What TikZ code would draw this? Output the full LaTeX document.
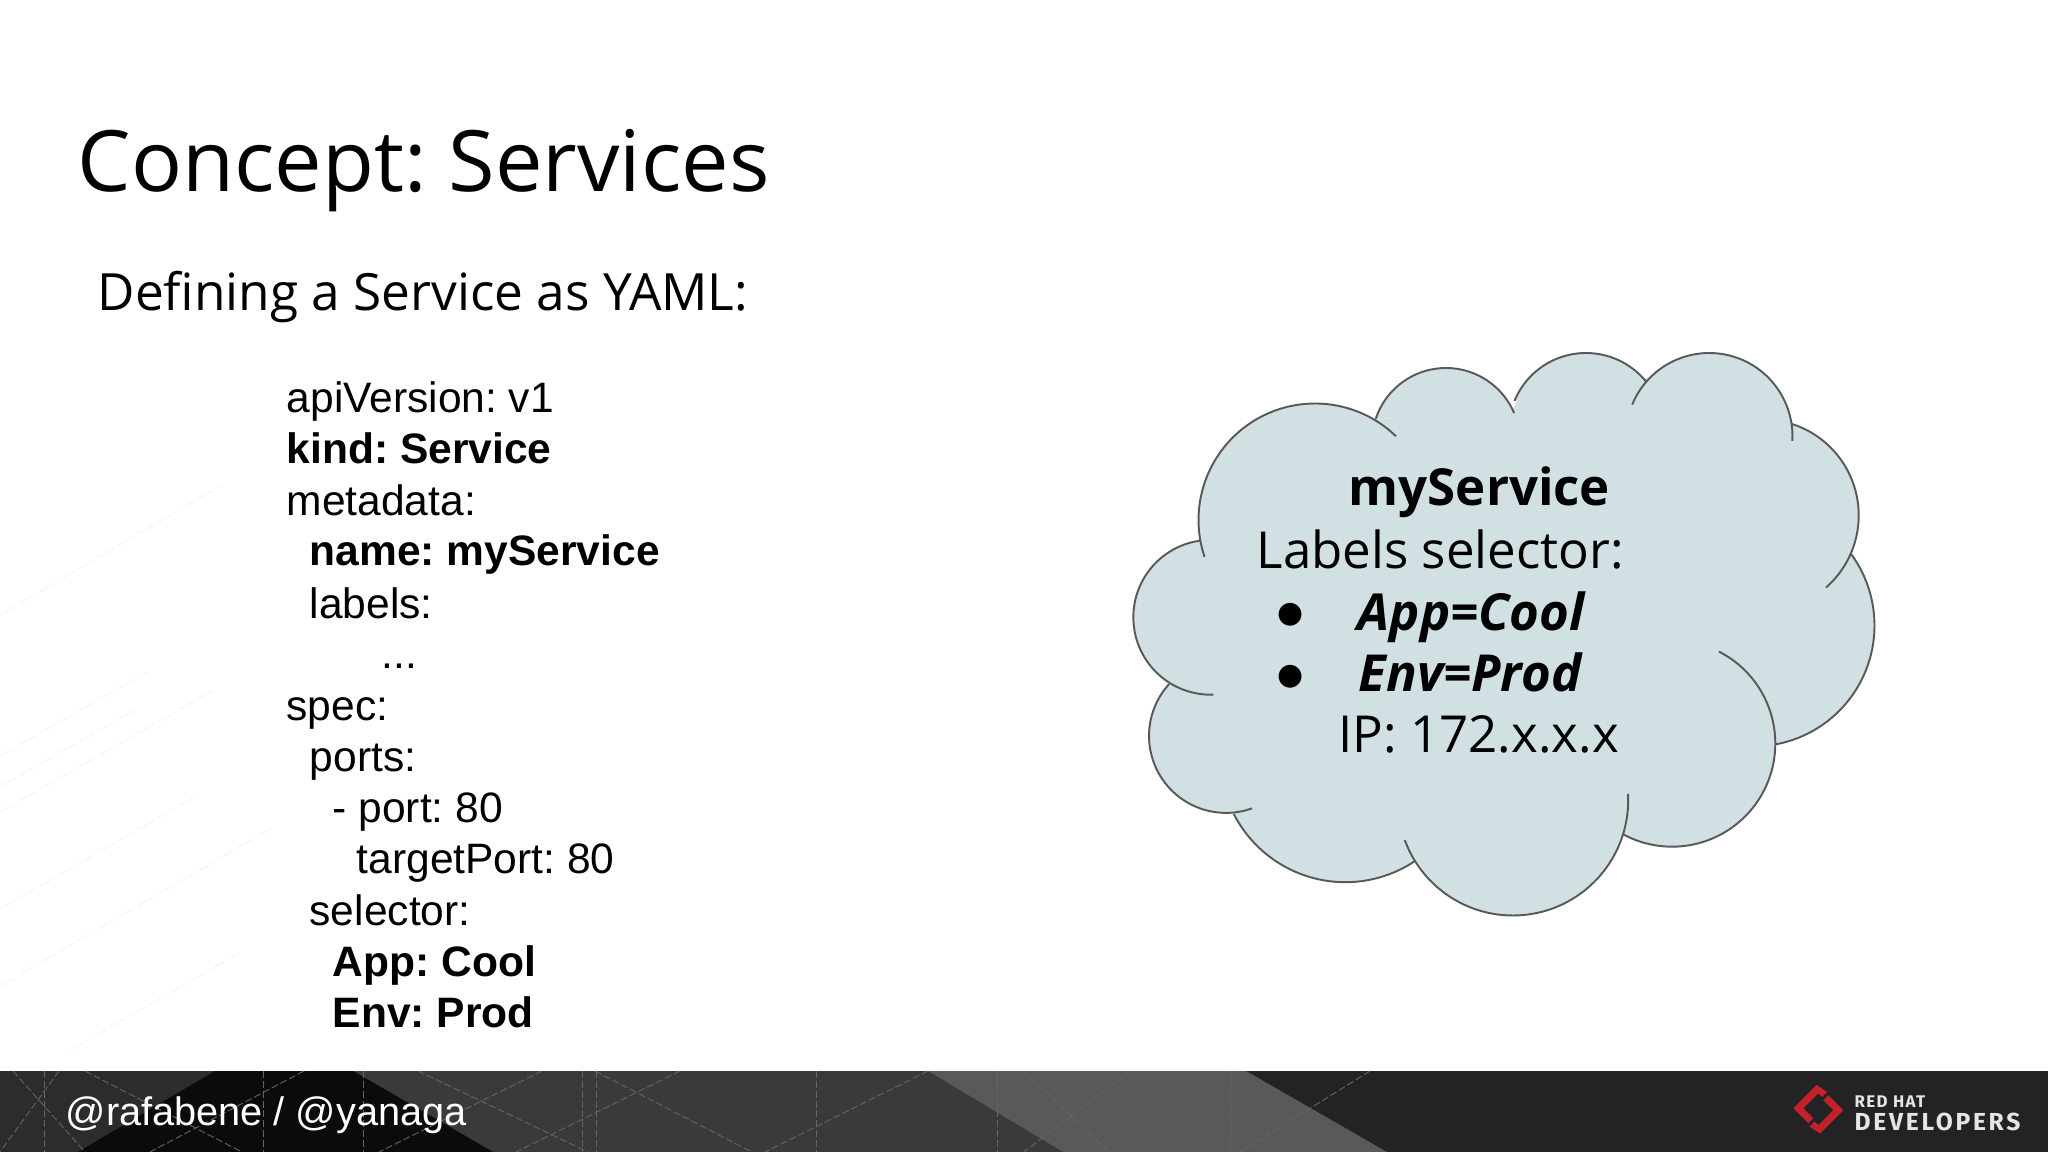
\documentclass[tikz,border=0pt]{standalone}
\usepackage{fontspec}
\setmainfont{Open Sans}
\newfontfamily\arialfont{Liberation Sans}
\newfontfamily\dejavufont{DejaVu Sans}
\newfontfamily\logofontA[LetterSpace=8]{Fira Sans}
\newfontfamily\logofontB[LetterSpace=11]{Fira Sans}
\usetikzlibrary{backgrounds}
\definecolor{cloudblue}{HTML}{D0E0E3}
\definecolor{cloudedge}{HTML}{595959}
\definecolor{bandblack}{HTML}{0B0B0C}
\definecolor{bandleft}{HTML}{2C2C2E}
\definecolor{banddark}{HTML}{232224}
\definecolor{bandmid}{HTML}{3A3A3C}
\definecolor{bandlight}{HTML}{59595B}
\definecolor{logored}{HTML}{C4222B}
\tikzset{
  cloudline/.style={draw=cloudedge,line width=0.55pt},
  wmline/.style={draw=black!4,line width=0.3pt,dash pattern=on 5pt off 1.5pt},
  bandline/.style={draw=white!22!bandmid,line width=0.25pt,dash pattern=on 2pt off 0.8pt}
}
% lobe of the cloud: centre x, centre y, radius, first and last angle
\newcommand{\lobe}[5]{%
  \begin{pgfonlayer}{background}
    \fill[cloudblue] plot[smooth,domain=#4:#5,samples=30] ({#1+#3*cos(\x)},{#2-#3*sin(\x)});
  \end{pgfonlayer}
  \draw[cloudline] plot[smooth,domain=#4:#5,samples=30] ({#1+#3*cos(\x)},{#2-#3*sin(\x)});
}
\frenchspacing
\begin{document}
\begin{tikzpicture}[x=0.01cm,y=-0.01cm]
        \useasboundingbox (0,0) rectangle (2048,1152);

        % faint lines on the white part
        \draw[wmline] (0,615) -- (220,486);
        \draw[wmline] (0,756) -- (147,672);
        \draw[wmline] (0,787) -- (135,710);
        \draw[wmline] (0,812) -- (212,691);
        \draw[wmline] (0,909) -- (193,798);
        \draw[wmline] (0,986) -- (277,825);
        \draw[wmline] (70,1050) -- (240,953);

        % footer band
        \fill[banddark] (0,1071) rectangle (2048,1152);
        \fill[bandmid] (353,1071) -- (928,1071) -- (1063,1152) -- (493,1152) -- cycle;
        \fill[bandleft] (0,1071) -- (353,1071) -- (493,1152) -- (0,1152) -- cycle;
        \fill[bandblack] (215,1071) -- (353,1071) -- (493,1152) -- (78,1152) -- cycle;
        \fill[bandlight] (928,1071) -- (1246,1071) -- (1387,1152) -- (1063,1152) -- cycle;
        \foreach \xa in {44,263,363,582,596,816,997,1230} {
          \draw[bandline] (\xa,1071) -- (\xa,1152);
        }
        \foreach \xa/\xb in {13/85,85/242,418/588,595/752,1024/1109} {
          \draw[bandline] (\xa,1071) -- (\xb,1152);
        }
        \foreach \xa/\xb in {59/0,304/150,542/379,680/516,928/765,1130/1024,1370/1240} {
          \draw[bandline] (\xa,1071) -- (\xb,1152);
        }

        % cloud
        \begin{pgfonlayer}{background}
          \fill[cloudblue] (1199.5,538.6) -- (1374,420) -- (1514,408) -- (1518,398) -- (1645,378) -- (1791.3,423.8)
            -- (1851,553.9) -- (1775,744.5) -- (1624,831.3) -- (1415.3,860.8) -- (1233.7,814.1) -- (1168.9,684) -- cycle;
        \end{pgfonlayer}
        \lobe{1315}{520}{116.5}{198.4}{46}
        \lobe{1446}{442}{74}{162}{23}
        \lobe{1586}{430.4}{77.4}{157.6}{39}
        \lobe{1709.2}{436.3}{83.3}{157.6}{-3.2}
        \lobe{1762.7}{515.4}{96}{72.7}{-48.8}
        \lobe{1753.6}{625.5}{120.9}{36.3}{-79.8}
        \lobe{1672.1}{743.5}{103.2}{63}{-118.7}
        \lobe{1512.9}{800.2}{115.3}{3.1}{-159.8}
        \lobe{1345.3}{756.9}{125.3}{-56}{-152.9}
        \lobe{1226}{735.9}{77}{-70.3}{-222.3}
        \lobe{1210.7}{617.3}{77.4}{-88}{-262.4}

        % headings
        \begin{scope}[every node/.style={anchor=base west,inner sep=0pt}]
          \node[font=\fontsize{24.1}{28}\selectfont] (title) at (77,192) {Concept: Services};
          \node[font=\fontsize{14.6}{18}\selectfont] (subtitle) at (97,311) {Defining a Service as YAML:};
        \end{scope}

        % yaml
        \begin{scope}[every node/.style={anchor=base west,inner sep=0pt,font=\arialfont\fontsize{12.1}{14}\selectfont}]
          \node (api)      at (286,413)  {apiVersion: v1};
          \node (kind)     at (286,464)  {\bfseries kind: Service};
          \node (metadata) at (286,515)  {metadata:};
          \node (name)     at (309,566)  {\bfseries name: myService};
          \node (labels)   at (309,618)  {labels:};
          \node (dots)     at (381,669)  {...};
          \node (spec)     at (286,720)  {spec:};
          \node (ports)    at (309,771)  {ports:};
          \node (port)     at (332,822)  {- port: 80};
          \node (target)   at (356,873)  {targetPort: 80};
          \node (selector) at (309,925)  {selector:};
          \node (app)      at (332,976)  {\bfseries App: Cool};
          \node (env)      at (332,1027) {\bfseries Env: Prod};
        \end{scope}

        % text in the cloud
        \begin{scope}[every node/.style={anchor=base west,inner sep=0pt,font=\fontsize{14.5}{17}\selectfont}]
          \node (svcname)  at (1348,505) {\bfseries myService};
          \node (selhead)  at (1256,568) {Labels selector:};
          \node (selapp)   at (1357,630) {\bfseries\itshape App=Cool};
          \node (selenv)   at (1358,691) {\bfseries\itshape Env=Prod};
          \node (svcip)    at (1338,752) {IP: 172.x.x.x};
          \node[anchor=center,font=\dejavufont\fontsize{8.5}{12}\selectfont] (bulapp) at (1291,615) {●};
          \node[anchor=center,font=\dejavufont\fontsize{8.5}{12}\selectfont] (bulenv) at (1291,677) {●};
        \end{scope}

        % footer text
        \node[anchor=base west,inner sep=0pt,text=white,font=\arialfont\fontsize{11.3}{14}\selectfont] (handles) at (65,1125) {@rafabene / @yanaga};
        \node[anchor=base west,inner sep=0pt,text=white!90!black,font=\logofontA\bfseries\fontsize{4.8}{6}\selectfont] (redhat) at (1854,1107) {RED HAT};
        \node[anchor=base west,inner sep=0pt,text=white!90!black,font=\logofontB\bfseries\fontsize{7}{8}\selectfont] (developers) at (1854,1130) {DEVELOPERS};

        % logo
        \fill[logored] (1816.7,1085) -- (1793.3,1108.3) -- (1808.3,1123.3) -- (1813.3,1118.3) -- (1803.3,1108.3) -- (1818.3,1093.3) -- (1822,1097) -- (1827,1092) -- cycle;
        \fill[logored] (1819.9,1133.6) -- (1843.3,1110.3) -- (1828.3,1095.3) -- (1823.3,1100.3) -- (1833.3,1110.3) -- (1818.3,1125.3) -- (1814.6,1121.6) -- (1809.6,1126.6) -- cycle;
\end{tikzpicture}
\end{document}
